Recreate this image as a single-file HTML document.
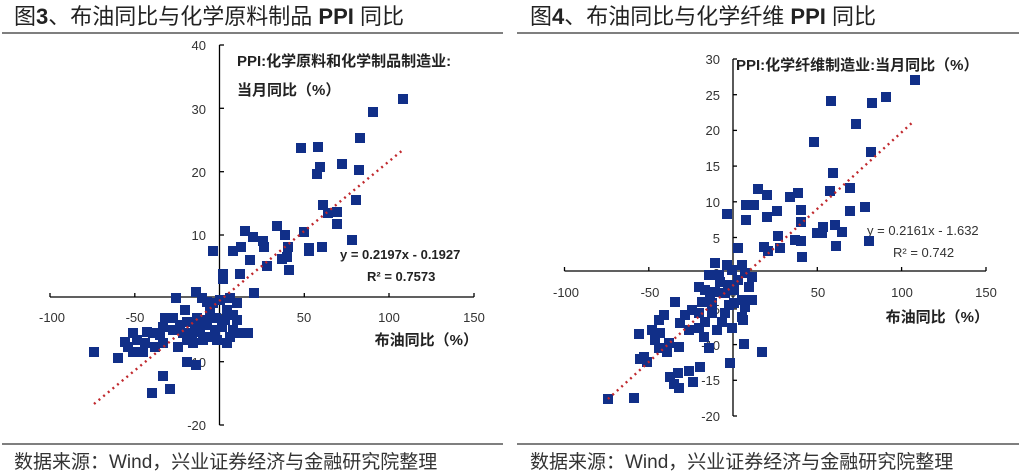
<!DOCTYPE html>
<html><head><meta charset="utf-8"><style>
body{margin:0;width:1024px;height:473px;background:#fff;overflow:hidden;font-family:"Liberation Sans","Noto Sans CJK SC",sans-serif}
svg{position:absolute;left:0;top:0}
</style></head><body>
<svg width="1024" height="473" viewBox="0 0 1024 473" xmlns="http://www.w3.org/2000/svg" font-family="Liberation Sans, Noto Sans CJK SC, sans-serif">
<text x="14" y="24" font-size="22" fill="#222">图<tspan font-weight="bold">3</tspan>、布油同比与化学原料制品 <tspan font-weight="bold">PPI</tspan> 同比</text>
<text x="530" y="24" font-size="22" fill="#222">图<tspan font-weight="bold">4</tspan>、布油同比与化学纤维 <tspan font-weight="bold">PPI</tspan> 同比</text>
<line x1="2" y1="33" x2="503" y2="33" stroke="#333" stroke-width="1.2"/>
<line x1="517" y1="33" x2="1019" y2="33" stroke="#333" stroke-width="1.2"/>
<line x1="2" y1="444" x2="503" y2="444" stroke="#333" stroke-width="1.2"/>
<line x1="517" y1="444" x2="1019" y2="444" stroke="#333" stroke-width="1.2"/>
<text x="14" y="468" font-size="19" fill="#333">数据来源：Wind，兴业证券经济与金融研究院整理</text>
<text x="530" y="468" font-size="19" fill="#333">数据来源：Wind，兴业证券经济与金融研究院整理</text>

<g stroke="#000" stroke-width="1.3">
<line x1="50" y1="297" x2="474" y2="297"/>
<line x1="219.5" y1="45" x2="219.5" y2="425"/>
<line x1="50" y1="293" x2="50" y2="297"/><line x1="134.8" y1="293" x2="134.8" y2="297"/><line x1="304.3" y1="293" x2="304.3" y2="297"/><line x1="389" y1="293" x2="389" y2="297"/><line x1="474" y1="293" x2="474" y2="297"/>
<line x1="219.5" y1="45" x2="224" y2="45"/><line x1="219.5" y1="108.3" x2="224" y2="108.3"/><line x1="219.5" y1="171.7" x2="224" y2="171.7"/><line x1="219.5" y1="235" x2="224" y2="235"/><line x1="219.5" y1="361.7" x2="224" y2="361.7"/><line x1="219.5" y1="425" x2="224" y2="425"/>
</g>
<g font-size="13" fill="#333" text-anchor="end">
<text x="206" y="50">40</text><text x="206" y="114">30</text><text x="206" y="177">20</text><text x="206" y="240">10</text><text x="206" y="303">0</text><text x="206" y="367">-10</text><text x="206" y="430">-20</text>
</g>
<g font-size="13" fill="#333" text-anchor="middle">
<text x="52" y="322">-100</text><text x="135" y="322">-50</text><text x="219.5" y="322">0</text><text x="304" y="322">50</text><text x="389" y="322">100</text><text x="474" y="322">150</text>
</g>
<text x="237" y="66" font-size="15" font-weight="bold" fill="#222">PPI:化学原料和化学制品制造业:</text>
<text x="237" y="95" font-size="15" font-weight="bold" fill="#222">当月同比（%）</text>
<text x="478" y="345" font-size="15" font-weight="bold" fill="#222" text-anchor="end">布油同比（%）</text>
<text x="340" y="259" font-size="13" font-weight="bold" fill="#222">y = 0.2197x - 0.1927</text>
<text x="367" y="281" font-size="13" font-weight="bold" fill="#222">R² = 0.7573</text>

<g stroke="#000" stroke-width="1.3">
<line x1="564.5" y1="271" x2="986" y2="271"/>
<line x1="733" y1="59" x2="733" y2="416"/>
<line x1="564.5" y1="267" x2="564.5" y2="271"/><line x1="648.8" y1="267" x2="648.8" y2="271"/><line x1="817.3" y1="267" x2="817.3" y2="271"/><line x1="901.6" y1="267" x2="901.6" y2="271"/><line x1="986" y1="267" x2="986" y2="271"/>
<line x1="733" y1="59" x2="737" y2="59"/><line x1="733" y1="94.7" x2="737" y2="94.7"/><line x1="733" y1="130.4" x2="737" y2="130.4"/><line x1="733" y1="166.1" x2="737" y2="166.1"/><line x1="733" y1="201.8" x2="737" y2="201.8"/><line x1="733" y1="237.5" x2="737" y2="237.5"/><line x1="733" y1="308.9" x2="737" y2="308.9"/><line x1="733" y1="344.6" x2="737" y2="344.6"/><line x1="733" y1="380.3" x2="737" y2="380.3"/><line x1="733" y1="416" x2="737" y2="416"/>
</g>
<g font-size="13" fill="#333" text-anchor="end">
<text x="720" y="64">30</text><text x="720" y="100">25</text><text x="720" y="135">20</text><text x="720" y="171">15</text><text x="720" y="207">10</text><text x="720" y="243">5</text><text x="720" y="278">0</text><text x="720" y="314">-5</text><text x="720" y="350">-10</text><text x="720" y="385">-15</text><text x="720" y="421">-20</text>
</g>
<g font-size="13" fill="#333" text-anchor="middle">
<text x="566" y="297">-100</text><text x="650" y="297">-50</text><text x="733" y="297">0</text><text x="818" y="297">50</text><text x="902" y="297">100</text><text x="986" y="297">150</text>
</g>
<text x="736" y="70" font-size="15" font-weight="bold" fill="#222">PPI:化学纤维制造业:当月同比（%）</text>
<text x="989" y="322" font-size="15" font-weight="bold" fill="#222" text-anchor="end">布油同比（%）</text>
<text x="867" y="235" font-size="13" fill="#333">y = 0.2161x - 1.632</text>
<text x="893" y="257" font-size="13" fill="#333">R² = 0.742</text>

<g id="pts" fill="#112f88"></g>
<line x1="94" y1="404" x2="404" y2="149" stroke="#c0282d" stroke-width="2.4" stroke-dasharray="2 4"/>
<line x1="608" y1="399" x2="914" y2="121" stroke="#c0282d" stroke-width="2.4" stroke-dasharray="2 4"/>
</svg>
<script>
var a=[[403,99],[373,112],[360,138],[301,148],[318,147],[320,167],[342,164],[359,170],[317,174],[356,200],[323,205],[328,213],[337,212],[337,224],[304,232],[352,240],[277,226],[285,235],[245,231],[253,237],[263,241],[264,247],[288,247],[287,257],[282,259],[289,270],[322,247],[309,248],[309,251],[213,251],[233,251],[241,247],[250,260],[267,266],[240,274],[223,274],[223,279],[254,293],
[176,298],[196,292],[185,310],[202,298],[207,302],[213,303],[230,298],[237,303],[227,310],[233,315],[216,318],[207,320],[197,318],[187,322],[173,318],[165,318],[163,327],[173,330],[183,333],[192,333],[200,332],[208,337],[217,340],[227,343],[233,330],[240,333],[248,333],[230,337],[237,320],[215,330],[153,333],[147,332],[133,333],[137,340],[125,342],[128,347],[133,352],[145,343],[143,352],[155,347],[163,343],[178,347],[94,352],[118,358],[187,362],[196,365],[163,376],[170,389],[152,393],[193,343],[203,340],[187,340],[222,327],[210,310],[220,300],[180,325],[160,335],[195,325],[225,320],[205,325],
[915,80],[886,97],[872,103],[831,101],[856,124],[814,142],[871,152],[833,173],[830,191],[850,188],[865,207],[850,211],[758,189],[767,195],[790,197],[798,193],[746,205],[754,205],[777,211],[801,210],[801,222],[727,214],[746,220],[767,217],[778,236],[780,248],[764,247],[768,251],[795,240],[801,241],[802,257],[817,233],[823,227],[822,233],[835,225],[842,232],[836,246],[869,241],[738,248],
[715,263],[727,265],[742,265],[709,275],[719,275],[732,270],[745,273],[752,277],[749,287],[699,287],[705,290],[715,292],[725,293],[734,290],[742,300],[752,300],[702,302],[712,303],[729,305],[734,303],[692,310],[699,313],[712,313],[725,313],[675,302],[745,307],[742,317],[743,320],[722,322],[685,315],[680,323],[689,330],[699,328],[705,322],[717,330],[732,328],[704,337],[709,348],[664,315],[659,320],[652,330],[639,334],[660,333],[655,340],[669,343],[679,347],[659,348],[667,352],[644,357],[640,359],[647,362],[744,344],[762,352],[730,363],[700,367],[689,371],[678,373],[670,377],[674,384],[679,388],[693,382],[608,399],[634,398],[720,282],[738,280],[710,297],[728,285]];
var g=document.getElementById('pts'),h='';
a.forEach(function(p){h+='<rect x="'+(p[0]-5)+'" y="'+(p[1]-5)+'" width="10" height="10"/>';});
g.innerHTML=h;
</script>
</body></html>
